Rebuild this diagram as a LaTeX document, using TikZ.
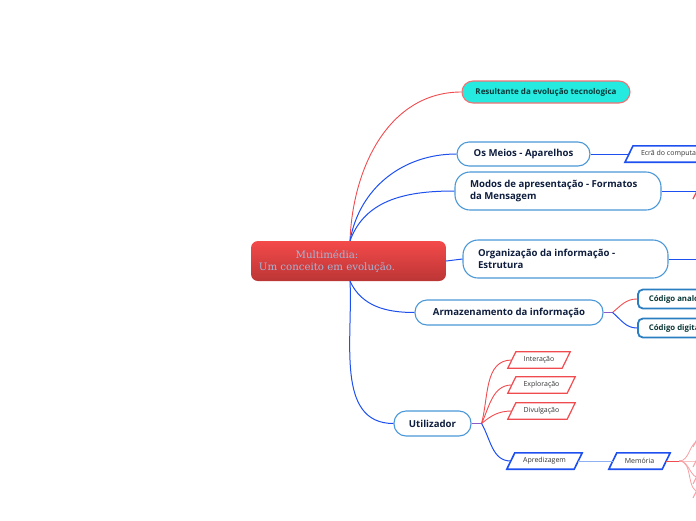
\documentclass[tikz,border=0pt]{standalone}
\usepackage{fontspec}
\setmainfont{Open Sans}
\newfontfamily\rootfont{DejaVu Serif}
\usetikzlibrary{calc}

\definecolor{redline}{HTML}{F04C50}
\definecolor{pinkline}{HTML}{F7A0A4}
\definecolor{blueline}{HTML}{1E50F0}
\definecolor{lightblueline}{HTML}{8FB0F2}
\definecolor{forkline}{HTML}{8A5CC8}
\definecolor{pillborder}{HTML}{4A98D8}
\definecolor{navytext}{HTML}{0F1E3E}
\definecolor{cyanfill}{HTML}{24EAE0}
\definecolor{tealtext}{HTML}{0B3838}
\definecolor{codeborder}{HTML}{2A7EC2}
\definecolor{rootfill}{HTML}{F44A4A}
\definecolor{rootdark}{HTML}{BC3535}
\definecolor{roottext}{HTML}{A4B6D6}

% outline of a slanted box round a node
\newcommand\slantframe[2]{\draw[#2] ($(#1.south west)+(-4,0)$) -- ($(#1.north west)+(4,0)$) -- ($(#1.north east)+(4,0)$) -- ($(#1.south east)+(-4,0)$) -- cycle;}

\begin{document}
\begin{tikzpicture}[x=1pt,y=-1pt,
    rootbox/.style={rectangle, rounded corners=7pt, minimum width=195pt, minimum height=40pt, top color=rootfill, bottom color=rootdark},
    roottxt/.style={align=center, font=\rootfont\fontsize{10.2}{12}\selectfont, text=roottext},
    pill/.style={draw=pillborder, line width=1.1pt, fill=white, rounded corners=12pt, text=navytext, font=\bfseries\fontsize{9.6}{12.5}\selectfont, inner sep=0pt},
    respill/.style={pill, draw=redline!80, fill=cyanfill, rounded corners=11pt, text=tealtext, font=\bfseries\fontsize{8}{9}\selectfont},
    codebox/.style={draw=codeborder, line width=1.8pt, fill=white, rounded corners=5pt, minimum height=19pt, inner xsep=11pt, text=tealtext, font=\bfseries\fontsize{7.8}{9}\selectfont},
    slantbox/.style={inner sep=0pt, minimum height=16pt, text=black!80, font=\fontsize{7}{9}\selectfont},
    redconn/.style={draw=redline, line width=0.9pt},
    blueconn/.style={draw=blueline, line width=1pt},
    redframe/.style={draw=redline, line width=1.2pt},
    blueframe/.style={draw=blueline, line width=1.6pt},
]
\useasboundingbox (0,0) rectangle (696,520);
\clip (0,0) rectangle (696,520);

% central topic
\node[rootbox] (root) at (348.5,261) {};
\node[roottxt] (roottxt) at (327,261) {Multimédia:\\Um conceito em evolução.};
\coordinate (rtop) at ($(root.north)+(1.5,0)$);
\coordinate (rbot) at ($(root.south)+(1.5,0)$);

% main branches
\node[respill, minimum width=168pt, minimum height=22pt] (res) at (546,92) {Resultante da evolução tecnologica};
\node[pill, minimum width=133pt, minimum height=24pt] (meios) at (523.5,154) {Os Meios - Aparelhos};
\node[pill, minimum width=206pt, minimum height=38pt, rounded corners=15pt] (modos) at (558,191) {\parbox{176pt}{Modos de apresentação - Formatos\\da Mensagem}};
\node[pill, minimum width=205pt, minimum height=38pt, rounded corners=15pt] (org) at (565.5,259) {\parbox{175pt}{Organização da informação -\\Estrutura}};
\node[pill, minimum width=188pt, minimum height=25pt] (arm) at (509,312.5) {Armazenamento da informação};
\node[pill, minimum width=77pt, minimum height=25pt] (util) at (432.5,423.5) {Utilizador};

\draw[redconn] (rtop) to[out=88,in=180] (res.west);
\draw[blueconn] (rtop) to[out=80,in=180] (meios.west);
\draw[blueconn] (rtop) to[out=70,in=180] (modos.west);
\draw[blueconn] (root.east) -- (org.west);
\draw[blueconn] (rbot) to[out=-65,in=180] (arm.west);
\draw[blueconn] (rbot) to[out=-87,in=180] (util.west);

% Os Meios
\node[slantbox, anchor=west, minimum width=90pt, inner xsep=11pt] (ecra) at (629,154) {Ecrã do computador};
\slantframe{ecra}{blueframe}
\draw[blueconn] (meios.east) -- (ecra.west);

% Modos / Organizacao, continuing past the edge
\coordinate (modosout) at (710,191);
\coordinate (orgout) at (710,259);
\draw[blueconn] (modos.east) -- (modosout);
\draw[blueconn] (org.east) -- (orgout);
\draw[redframe] (693,199) -- (697,191);

% Armazenamento
\node[codebox, anchor=west] (cana) at (637,299) {Código analógico};
\node[codebox, anchor=west] (cdig) at (637,328) {Código digital};
\coordinate (armfork) at ($(arm.east)+(9,0)$);
\draw[draw=forkline, line width=1pt] (arm.east) -- (armfork);
\draw[redconn] (armfork) to[out=40,in=180] (cana.west);
\draw[blueconn] (armfork) to[out=-40,in=180] (cdig.west);

% Utilizador
\node[slantbox, minimum width=54pt] (int) at (539,360) {Interação};
\node[slantbox, minimum width=59pt] (expl) at (541.5,385) {Exploração};
\node[slantbox, minimum width=59pt] (div) at (541.5,411) {Divulgação};
\node[slantbox, minimum width=67pt] (aprend) at (544.5,461) {Apredizagem};
\node[slantbox, minimum width=53pt] (mem) at (639.5,461) {Memória};
\foreach \n in {int,expl,div} \slantframe{\n}{redframe};
\foreach \n in {aprend,mem} \slantframe{\n}{blueframe};

\coordinate (utilfork) at ($(util.east)+(10,0)$);
\draw[draw=forkline, line width=1pt] (util.east) -- (utilfork);
\draw[redconn] (utilfork) to[out=75,in=180] (int.west);
\draw[redconn] (utilfork) to[out=65,in=180] (expl.west);
\draw[redconn] (utilfork) to[out=40,in=180] (div.west);
\draw[blueconn] (utilfork) to[out=-60,in=180] (aprend.west);
\draw[draw=lightblueline, line width=1pt] (aprend.east) -- (mem.west);

% Memoria, continuing past the edge
\coordinate (memfork) at ($(mem.east)+(13,0)$);
\draw[redconn] (mem.east) -- (memfork);
\foreach \y in {441,461,478,492}
  \draw[draw=pinkline, line width=0.8pt] (memfork) to[out=0,in=180] (700,\y);
\foreach \y in {447,467,484,498}
  \draw[draw=pinkline, line width=1pt] (693,\y) -- (697,\y-8);
\end{tikzpicture}
\end{document}
